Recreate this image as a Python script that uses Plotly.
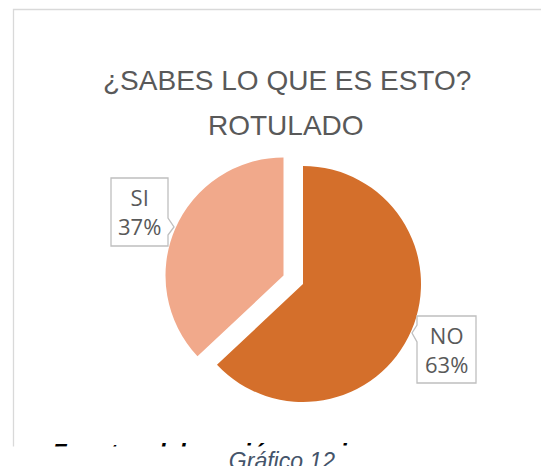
import plotly.graph_objects as go

# ── Data ─────────────────────────────────────────────────────────────────────
labels = ["NO", "SI"]
values = [63, 37]
colors = ["#D46F2B", "#F1A98B"]
pulls = [0, 0.18]

title_lines = ["¿SABES LO QUE ES ESTO?", "ROTULADO"]
source_text = "Fuente: elaboración propia"
caption_text = "Gráfico 12"

# the page body keeps its default 8px margin, so the figure is 8px smaller
# and every screen position below is shifted by that offset
OFF = 8
W, H = 549 - OFF, 466 - OFF


def px(x):
    return (x - OFF) / W


def py(y):
    return 1 - (y - OFF) / H


def path(points):
    return "M " + " L ".join(f"{px(x):.5f},{py(y):.5f}" for x, y in points) + " Z"


# pie geometry (screen pixels): centre and radius of the unpulled slice
cx, cy, r = 303, 284, 118
half = r * (1 + max(pulls))

fig = go.Figure(go.Pie(
    labels=labels,
    values=values,
    marker=dict(colors=colors, line=dict(width=0)),
    pull=pulls,
    sort=False,
    direction="clockwise",
    rotation=0,
    textinfo="none",
    hoverinfo="label+percent",
    showlegend=False,
    domain=dict(x=[px(cx - half), px(cx + half)],
                y=[py(cy + half), py(cy - half)]),
))

# callout boxes
callout_line = dict(color="#BFBFBF", width=1.3)
si_box = [(111, 178), (168, 178), (168, 218), (174, 227), (168, 235),
          (168, 246), (111, 246)]
no_box = [(417, 316), (476, 316), (476, 383), (417, 383), (417, 342),
          (412, 333), (417, 325)]

shapes = [
    dict(type="rect", xref="paper", yref="paper",
         x0=px(13.5), x1=px(545.5), y0=py(480), y1=py(9.5),
         line=dict(color="#D9D9D9", width=1.3), layer="below"),
    dict(type="path", xref="paper", yref="paper", path=path(si_box),
         fillcolor="white", line=callout_line),
    dict(type="path", xref="paper", yref="paper", path=path(no_box),
         fillcolor="white", line=callout_line),
]

total = sum(values)
pct = {lab: round(v / total * 100) for lab, v in zip(labels, values)}
label_font = dict(family="Open Sans", size=22, color="#595959")
title_font = dict(family="Liberation Sans", size=28, color="#595959")

annotations = [
    dict(text=title_lines[0], x=px(287), y=py(81), font=title_font),
    dict(text=title_lines[1], x=px(286), y=py(125), font=title_font),
    dict(text=f"SI<br>{pct['SI']}%", x=px(139.5), y=py(212), font=label_font),
    dict(text=f"NO<br>{pct['NO']}%", x=px(446.5), y=py(349), font=label_font),
    dict(text=f"<b><i>{source_text}</i></b>", x=px(50), y=py(452.5),
         xanchor="left", font=dict(family="Liberation Sans", size=24, color="black")),
    dict(text=f"<i>{caption_text}</i>", x=px(281.5), y=py(460),
         width=620, height=27, bgcolor="white", borderpad=0,
         font=dict(family="Liberation Sans", size=23, color="#44546A")),
]
for a in annotations:
    a.setdefault("xref", "paper")
    a.setdefault("yref", "paper")
    a.setdefault("showarrow", False)
    a.setdefault("xanchor", "center")
    a.setdefault("yanchor", "middle")

fig.update_layout(
    width=W,
    height=H,
    margin=dict(l=0, r=0, t=0, b=0),
    paper_bgcolor="white",
    plot_bgcolor="white",
    shapes=shapes,
    annotations=annotations,
)

fig.write_html("out.html")
